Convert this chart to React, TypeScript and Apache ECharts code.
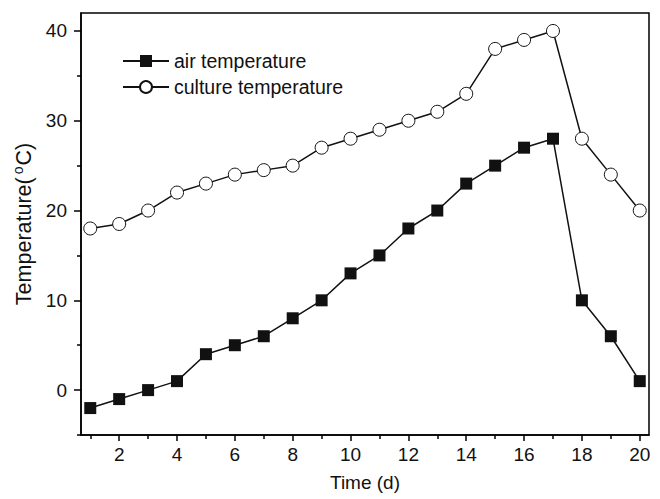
import React, { useEffect, useRef } from "react";
import * as echarts from "echarts";

const days = [1, 2, 3, 4, 5, 6, 7, 8, 9, 10, 11, 12, 13, 14, 15, 16, 17, 18, 19, 20];
const airTemp = [-2, -1, 0, 1, 4, 5, 6, 8, 10, 13, 15, 18, 20, 23, 25, 27, 28, 10, 6, 1];
const cultureTemp = [18, 18.5, 20, 22, 23, 24, 24.5, 25, 27, 28, 29, 30, 31, 33, 38, 39, 40, 28, 24, 20];
const xMajorTicks = [2, 4, 6, 8, 10, 12, 14, 16, 18, 20];
const xMinorTicks = [1, 3, 5, 7, 9, 11, 13, 15, 17, 19];
const yMajorTicks = [0, 10, 20, 30, 40];
const yMinorTicks = [-5, 5, 15, 25, 35];

const FONT = "Liberation Sans, Arial, sans-serif";

export default function App() {
  const ref = useRef<HTMLDivElement>(null);
  useEffect(() => {
    if (!ref.current) return;
    const chart = echarts.init(ref.current, undefined, { renderer: "svg" });
    const xRange = { min: 0.68, max: 20.32 };
    const yRange = { min: -5, max: 42 };
    const axisLine = { show: true, onZero: false, lineStyle: { color: "#000", width: 1.5 } };
    chart.setOption({
      animation: false,
      backgroundColor: "#fff",
      textStyle: { fontFamily: FONT },
      grid: { left: 81, right: 11, top: 13, bottom: 64, show: true, borderColor: "#000", borderWidth: 1.5 },
      legend: {
        orient: "vertical",
        left: 122,
        top: 51,
        padding: 0,
        itemWidth: 46,
        itemHeight: 15,
        itemGap: 6,
        textStyle: { fontSize: 19.5, color: "#111", fontFamily: FONT },
        data: ["air temperature", "culture temperature"],
      },
      xAxis: [
        {
          type: "value",
          ...xRange,
          name: "Time (d)",
          nameLocation: "middle",
          nameGap: 38,
          nameTextStyle: { fontSize: 19, color: "#111", fontFamily: FONT },
          axisLine,
          splitLine: { show: false },
          axisTick: { show: true, customValues: xMajorTicks, length: 6, lineStyle: { color: "#000", width: 1.5 } },
          axisLabel: { customValues: xMajorTicks, fontSize: 19, color: "#111", margin: 10, fontFamily: FONT },
        },
        {
          type: "value",
          ...xRange,
          position: "bottom",
          axisLine: { show: false, onZero: false },
          splitLine: { show: false },
          axisTick: { show: true, customValues: xMinorTicks, length: 4, lineStyle: { color: "#000", width: 1.5 } },
          axisLabel: { show: false },
        },
      ],
      yAxis: [
        {
          type: "value",
          ...yRange,
          name: "{a|Temperature(}{b|o}{a|C)}",
          nameLocation: "middle",
          nameGap: 43,
          nameTextStyle: {
            color: "#111",
            fontFamily: FONT,
            rich: {
              a: { fontSize: 21.5, color: "#111", fontFamily: FONT, lineHeight: 26 },
              b: { fontSize: 14, color: "#111", fontFamily: FONT, verticalAlign: "top", padding: [0, 1, 0, 3], lineHeight: 14 },
            },
          },
          axisLine,
          splitLine: { show: false },
          axisTick: { show: true, customValues: yMajorTicks, length: 7, lineStyle: { color: "#000", width: 1.5 } },
          axisLabel: { customValues: yMajorTicks, fontSize: 19, color: "#111", margin: 14, fontFamily: FONT },
        },
        {
          type: "value",
          ...yRange,
          position: "left",
          axisLine: { show: false, onZero: false },
          splitLine: { show: false },
          axisTick: { show: true, customValues: yMinorTicks, length: 4, lineStyle: { color: "#000", width: 1.5 } },
          axisLabel: { show: false },
        },
      ],
      series: [
        {
          name: "air temperature",
          type: "line",
          data: days.map((d, i) => [d, airTemp[i]]),
          symbol: "rect",
          symbolSize: 12,
          lineStyle: { color: "#111", width: 1.5 },
          itemStyle: { color: "#111", borderColor: "#111", borderWidth: 0 },
        },
        {
          name: "culture temperature",
          type: "line",
          data: days.map((d, i) => [d, cultureTemp[i]]),
          symbol: "circle",
          symbolSize: 13,
          showAllSymbol: true,
          lineStyle: { color: "#111", width: 1.5 },
          itemStyle: { color: "#fff", borderColor: "#111", borderWidth: 1 },
        },
      ],
    });
    return () => chart.dispose();
  }, []);
  return <div ref={ref} style={{ width: 660, height: 499, position: "absolute", left: 0, top: 0 }} />;
}
